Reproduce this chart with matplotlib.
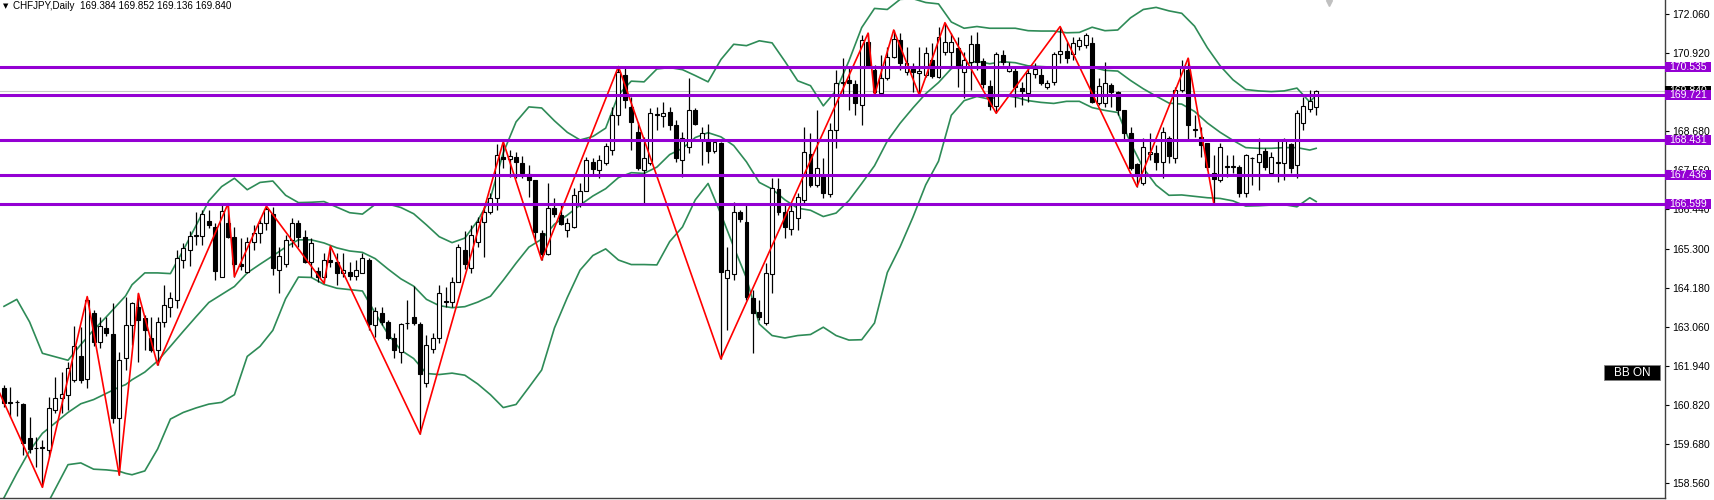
import numpy as np
import matplotlib
matplotlib.use("Agg")
import matplotlib.pyplot as plt
from matplotlib.patches import Rectangle
from matplotlib.transforms import blended_transform_factory

plt.rcParams['font.family'] = ['Liberation Sans', 'DejaVu Sans']

symbol = "CHFJPY,Daily"
last_ohlc = ["169.384", "169.852", "169.136", "169.840"]

# daily candles left to right
opens = [161.30, 160.90, 160.89, 160.84, 159.87, 159.57, 159.58, 159.52, 160.67, 161.02,
         161.10, 161.53, 162.22, 161.55, 163.45, 162.63, 163.02, 162.85, 160.43, 162.16,
         163.11, 163.64, 163.31, 162.73, 162.39, 163.21, 163.64, 163.83, 164.98, 165.27,
         165.67, 165.67, 166.10, 165.94, 164.50, 166.05, 165.65, 164.88, 164.65, 165.50,
         165.75, 166.03, 166.30, 164.69, 164.86, 165.55, 166.03, 165.65, 164.93, 164.67,
         164.50, 164.98, 164.93, 164.61, 164.64, 164.52, 164.62, 164.98, 163.11, 163.47,
         163.21, 162.73, 162.34, 163.16, 163.35, 163.14, 161.44, 162.41, 162.73, 163.81,
         163.78, 164.36, 165.27, 164.74, 165.50, 166.08, 166.37, 166.75, 167.93, 167.88,
         167.93, 167.76, 167.45, 167.28, 165.75, 165.15, 166.47, 166.27, 165.84, 165.94,
         166.59, 166.97, 167.80, 167.57, 167.76, 168.14, 169.15, 170.30, 169.39, 168.67,
         167.57, 167.76, 169.17, 169.12, 169.22, 168.86, 167.85, 168.24, 169.29, 168.43,
         168.45, 168.12, 168.33, 164.45, 164.58, 166.35, 166.08, 163.88, 163.50, 163.18,
         164.58, 167.01, 166.37, 165.86, 166.18, 166.70, 168.03, 167.14, 167.42, 166.88,
         168.72, 170.06, 170.15, 170.04, 169.43, 171.25, 170.44, 169.77, 170.20, 170.82,
         171.30, 170.39, 170.50, 170.36, 170.30, 170.73, 170.25, 170.97, 170.97, 171.06,
         170.39, 170.68, 171.18, 170.71, 169.98, 169.41, 170.87, 170.42, 170.42, 169.91,
         169.79, 170.33, 170.30, 169.96, 170.10, 170.90, 170.99, 170.90, 171.13, 171.16,
         171.21, 169.48, 169.48, 170.01, 169.82, 169.29, 168.62, 167.73, 167.19, 168.04,
         168.06, 167.80, 168.48, 167.92, 169.87, 170.44, 168.72, 168.52, 168.33, 167.47,
         167.28, 167.66, 167.66, 167.66, 166.90, 167.90, 167.79, 168.12, 167.47, 167.80,
         167.76, 168.31, 167.71, 168.91, 169.31, 169.384]
highs = [161.38, 161.34, 160.95, 160.87, 160.48, 159.90, 159.81, 161.05, 161.63, 161.77,
         162.06, 163.08, 163.06, 163.93, 163.55, 163.35, 163.35, 163.75, 162.35, 163.93,
         163.78, 164.02, 163.40, 163.35, 163.35, 164.26, 164.07, 165.27, 165.46, 165.80,
         166.37, 166.42, 166.42, 166.04, 166.56, 166.60, 165.94, 165.60, 165.65, 165.99,
         166.18, 166.53, 166.50, 165.36, 165.70, 166.18, 166.13, 165.84, 165.60, 164.79,
         165.17, 165.38, 165.17, 165.17, 164.93, 164.98, 165.17, 165.03, 163.64, 163.64,
         163.26, 162.87, 163.16, 163.83, 164.23, 163.20, 162.83, 162.87, 164.26, 164.20,
         164.50, 165.45, 165.80, 166.00, 166.22, 166.51, 166.90, 168.30, 168.38, 168.14,
         168.09, 167.97, 167.71, 167.28, 165.84, 167.18, 166.75, 166.61, 166.18, 167.04,
         167.18, 167.95, 167.90, 168.00, 168.33, 169.39, 170.54, 170.50, 169.67, 168.96,
         168.52, 169.34, 169.39, 169.53, 169.39, 169.00, 168.67, 170.20, 169.34, 168.81,
         168.89, 168.43, 168.38, 165.36, 166.66, 166.42, 166.63, 164.12, 163.83, 164.90,
         167.33, 167.33, 166.56, 166.61, 166.90, 168.81, 168.62, 169.29, 167.90, 168.91,
         170.44, 170.78, 170.54, 170.15, 171.45, 171.50, 170.58, 170.87, 171.11, 171.59,
         171.49, 171.11, 170.63, 171.11, 171.11, 171.21, 171.69, 171.80, 171.49, 171.40,
         170.97, 171.45, 171.54, 170.78, 170.15, 170.97, 171.02, 170.68, 170.54, 170.10,
         170.54, 170.63, 170.49, 170.15, 170.97, 171.69, 171.25, 171.40, 171.40, 171.49,
         171.40, 170.20, 170.68, 170.06, 169.85, 169.29, 168.81, 167.76, 168.48, 168.62,
         168.29, 168.81, 168.53, 169.96, 170.73, 170.78, 169.15, 168.81, 168.33, 168.00,
         168.33, 168.00, 168.00, 167.71, 168.04, 167.95, 168.48, 168.19, 168.09, 168.43,
         168.48, 168.35, 169.29, 169.67, 169.88, 169.852]
lows = [160.75, 160.48, 160.50, 159.38, 159.43, 159.04, 158.45, 159.33, 160.58, 160.58,
        160.67, 161.48, 161.45, 161.29, 162.50, 162.44, 162.80, 160.30, 158.80, 161.82,
        162.54, 162.06, 162.40, 162.35, 161.96, 163.07, 163.35, 163.60, 164.74, 164.80,
        165.40, 165.40, 165.90, 164.41, 164.48, 165.60, 164.50, 164.70, 164.60, 165.27,
        165.46, 165.84, 164.55, 164.02, 164.79, 165.36, 165.36, 164.89, 164.50, 164.35,
        164.31, 164.79, 164.26, 164.50, 164.41, 164.41, 164.60, 162.97, 162.78, 163.10,
        162.68, 162.16, 162.02, 163.00, 163.10, 159.98, 161.34, 162.30, 162.60, 163.64,
        163.64, 164.36, 164.72, 164.60, 165.36, 165.08, 166.30, 166.42, 167.62, 167.38,
        167.33, 167.33, 166.80, 165.51, 164.98, 165.12, 166.22, 165.99, 165.65, 165.89,
        166.51, 166.95, 167.42, 167.33, 167.71, 167.99, 168.86, 169.34, 168.14, 167.57,
        166.56, 167.71, 168.72, 168.81, 168.72, 167.81, 167.37, 168.05, 168.86, 167.71,
        167.76, 168.05, 162.14, 162.97, 164.41, 166.08, 163.83, 162.30, 163.26, 163.11,
        164.02, 166.27, 165.60, 165.70, 165.84, 166.61, 167.09, 167.09, 166.75, 166.80,
        168.19, 169.68, 169.29, 169.15, 168.86, 170.49, 169.72, 169.74, 170.15, 170.78,
        170.44, 170.30, 169.82, 169.72, 170.25, 170.20, 170.20, 170.87, 170.54, 169.96,
        169.63, 169.87, 170.44, 169.91, 169.29, 169.20, 170.58, 170.39, 169.39, 169.44,
        169.53, 170.20, 170.01, 169.89, 170.01, 170.63, 170.63, 170.73, 171.02, 171.06,
        169.48, 169.44, 169.39, 169.39, 169.15, 168.43, 167.57, 167.09, 167.14, 167.85,
        167.57, 167.33, 167.76, 167.76, 169.82, 168.43, 168.52, 167.95, 167.57, 166.61,
        167.23, 167.38, 167.47, 166.80, 166.80, 167.14, 166.99, 167.57, 167.42, 167.23,
        167.28, 167.47, 167.33, 168.72, 169.24, 169.136]
closes = [160.87, 160.88, 160.90, 159.73, 159.55, 159.58, 159.60, 160.72, 161.02, 161.12,
          161.87, 162.51, 161.53, 163.83, 162.63, 163.08, 162.87, 160.43, 162.11, 163.11,
          163.74, 163.27, 162.97, 162.39, 163.21, 163.69, 163.88, 165.03, 165.32, 165.67,
          165.69, 166.29, 165.99, 164.67, 166.40, 165.65, 164.88, 164.82, 165.50, 165.75,
          166.03, 166.44, 164.74, 165.09, 165.55, 166.03, 165.65, 164.93, 165.48, 164.50,
          164.98, 164.93, 164.62, 164.69, 164.52, 164.69, 165.05, 163.14, 163.52, 163.21,
          162.73, 162.39, 163.14, 163.18, 163.16, 161.70, 162.54, 162.73, 164.02, 163.78,
          164.36, 165.36, 164.88, 165.70, 166.08, 166.37, 166.75, 167.99, 167.88, 167.97,
          167.80, 167.49, 167.28, 165.79, 165.15, 166.47, 166.30, 166.01, 166.05, 166.85,
          166.97, 167.85, 167.59, 167.85, 168.26, 169.15, 170.39, 169.58, 168.95, 167.62,
          167.90, 169.20, 169.14, 169.20, 168.86, 167.90, 168.48, 169.29, 168.89, 168.64,
          168.12, 168.38, 164.64, 164.69, 166.37, 166.15, 163.93, 163.47, 163.35, 164.60,
          167.04, 166.37, 165.92, 166.40, 166.80, 168.09, 167.14, 167.62, 166.90, 168.72,
          170.06, 170.11, 170.06, 169.48, 171.30, 170.54, 169.82, 170.20, 170.80, 171.32,
          170.63, 170.63, 170.39, 170.42, 170.94, 170.27, 171.40, 171.25, 171.25, 170.49,
          170.73, 171.18, 170.68, 170.04, 169.41, 170.90, 170.68, 170.49, 169.94, 169.85,
          170.35, 170.46, 170.06, 170.08, 170.90, 170.99, 170.78, 171.23, 171.30, 171.45,
          169.53, 169.98, 170.08, 169.82, 169.29, 168.62, 167.62, 167.40, 168.24, 168.08,
          167.80, 168.67, 167.97, 169.87, 170.54, 168.86, 168.74, 168.29, 167.64, 167.30,
          168.24, 167.69, 167.68, 166.90, 167.99, 167.92, 168.03, 167.66, 167.93, 167.76,
          168.43, 167.62, 169.21, 169.40, 169.56, 169.840]

# Bollinger bands, sampled every second bar
bb_idx = [0, 2, 4, 6, 8, 10, 12, 14, 16, 18, 19] + list(range(20, 205, 2)) + [205]
bb_upper = [163.65, 163.85, 163.20, 162.30, 162.20, 162.10, 162.55, 162.97, 163.35, 163.75, 163.95,
            164.27, 164.61, 164.61, 164.59, 165.26, 165.97, 166.68, 167.09, 167.33, 167.00,
            167.21, 167.25, 166.84, 166.63, 166.64, 166.66, 166.50, 166.34, 166.30, 166.58,
            166.59, 166.49, 166.31, 165.99, 165.65, 165.48, 165.61, 166.11, 166.77, 168.06,
            168.95, 169.38, 169.35, 168.98, 168.65, 168.43, 168.53, 168.77, 169.73, 170.12,
            170.10, 170.47, 170.51, 170.45, 170.28, 170.10, 170.74, 171.18, 171.14, 171.28,
            171.22, 170.69, 170.13, 169.99, 169.41, 169.85, 170.70, 171.66, 172.21, 172.18,
            172.47, 172.49, 172.38, 172.34, 171.82, 171.64, 171.69, 171.64, 171.64, 171.64,
            171.57, 171.56, 171.56, 171.51, 171.52, 171.67, 171.57, 171.59, 171.94, 172.18,
            172.24, 172.14, 172.07, 171.70, 171.08, 170.56, 170.16, 169.88, 169.84, 169.82,
            169.84, 169.92, 169.52, 169.72]
bb_middle = [158.15, 158.85, 159.50, 160.00, 160.30, 160.60, 160.85, 160.97, 161.15, 161.33, 161.40,
             161.54, 161.76, 162.08, 162.50, 162.93, 163.35, 163.76, 163.99, 164.22, 164.61,
             164.86, 165.10, 165.35, 165.56, 165.56, 165.47, 165.33, 165.24, 165.20, 165.02,
             164.72, 164.44, 164.23, 163.85, 163.67, 163.61, 163.64, 163.77, 163.94, 164.40,
             164.89, 165.35, 165.58, 166.01, 166.27, 166.56, 166.82, 167.03, 167.35, 167.49,
             167.47, 167.65, 168.01, 168.19, 168.50, 168.64, 168.52, 168.27, 167.80, 167.21,
             167.02, 166.71, 166.47, 166.41, 166.23, 166.33, 166.69, 167.18, 167.69, 168.40,
             168.91, 169.35, 169.76, 170.08, 170.48, 170.60, 170.69, 170.62, 170.68, 170.65,
             170.56, 170.54, 170.52, 170.53, 170.53, 170.52, 170.43, 170.41, 170.14, 169.90,
             169.69, 169.49, 169.46, 169.25, 168.92, 168.65, 168.42, 168.21, 168.19, 168.19,
             168.21, 168.21, 168.14, 168.19]
bb_lower = [152.65, 153.85, 155.80, 157.70, 158.40, 159.10, 159.15, 158.97, 158.95, 158.91, 158.85,
            158.81, 158.92, 159.55, 160.41, 160.60, 160.73, 160.84, 160.89, 161.11, 162.21,
            162.50, 162.96, 163.87, 164.49, 164.48, 164.28, 164.17, 164.13, 164.09, 163.45,
            162.85, 162.39, 162.15, 161.72, 161.69, 161.73, 161.67, 161.42, 161.11, 160.74,
            160.83, 161.32, 161.82, 163.03, 163.90, 164.69, 165.11, 165.30, 164.98, 164.85,
            164.85, 164.84, 165.51, 165.93, 166.71, 167.18, 166.30, 165.36, 164.46, 163.14,
            162.81, 162.74, 162.81, 162.84, 163.05, 162.81, 162.68, 162.69, 163.17, 164.62,
            165.36, 166.21, 167.14, 167.82, 169.14, 169.56, 169.68, 169.60, 169.72, 169.66,
            169.56, 169.51, 169.48, 169.54, 169.54, 169.36, 169.28, 169.22, 168.34, 167.62,
            167.13, 166.84, 166.85, 166.81, 166.77, 166.75, 166.68, 166.53, 166.54, 166.56,
            166.57, 166.51, 166.77, 166.66]

# zigzag turning points (bar index, price)
zz_idx = [-3, 6, 13, 18, 21, 24, 35, 36, 41, 50, 51, 65, 78, 84, 96, 112,
          135, 136, 139, 143, 147, 155, 165, 177, 185, 189]
zz_price = [162.10, 158.45, 163.93, 158.80, 164.02, 161.96, 166.60, 164.50, 166.53,
            164.31, 165.38, 159.98, 168.38, 164.98, 170.54, 162.14, 171.50, 169.72,
            171.59, 169.72, 171.80, 169.20, 171.69, 167.09, 170.78, 166.61]

# horizontal levels and current price
levels = [170.535, 169.721, 168.431, 167.436, 166.599]
price_line = 169.840

yticks = [172.060, 170.920, 169.800, 168.680, 167.560, 166.440, 165.300,
          164.180, 163.060, 161.940, 160.820, 159.680, 158.560]

o = np.array(opens)
h = np.array(highs)
l = np.array(lows)
c = np.array(closes)
x = np.arange(len(closes))

W, H = 1715, 500
fig = plt.figure(figsize=(W / 100, H / 100), dpi=100)
ax = fig.add_axes([0, 2 / H, 1665 / W, 498 / H])
ax.set_xlim(-0.625, 259.5)
ax.set_ylim(158.142, 172.452)

purple = '#9400d3'
green = '#2e8b57'

ax.axhline(price_line, color='#c8c8c8', lw=0.8, zorder=1)

ax.plot(bb_idx, bb_upper, color=green, lw=1.2, zorder=2)
ax.plot(bb_idx, bb_middle, color=green, lw=1.2, zorder=2)
ax.plot(bb_idx, bb_lower, color=green, lw=1.2, zorder=2)

# candles
ax.vlines(x, l, h, color='black', lw=0.9, zorder=3)
up = c >= o
ax.bar(x, np.abs(c - o), bottom=np.minimum(o, c), width=0.62,
       color=np.where(up, 'white', 'black'), edgecolor='black', lw=0.8, zorder=4)

ax.plot(zz_idx, zz_price, color='red', lw=1.2, zorder=5)

for lv in levels:
    ax.axhline(lv, color=purple, lw=2.2, zorder=6)

# right price scale
ax.yaxis.tick_right()
ax.set_yticks(yticks)
ax.set_yticklabels([f"{v:.3f}" for v in yticks])
ax.tick_params(axis='y', length=3, width=0.8, pad=2, labelsize=7.5, colors='black')
ax.set_xticks([])
for s in ['top', 'left']:
    ax.spines[s].set_visible(False)
for s in ['right', 'bottom']:
    ax.spines[s].set_color('#404040')
    ax.spines[s].set_linewidth(1.0)

# price tags on the scale
tr = blended_transform_factory(ax.transAxes, ax.transData)
box_w = 46 / 1665
half = 5 / 34.8
ax.add_patch(Rectangle((1.0, price_line - half), box_w, 2 * half, transform=tr,
                       facecolor='black', edgecolor='none', clip_on=False, zorder=7))
ax.text(1.0 + 4 / 1665, price_line, f"{price_line:.3f}", transform=tr, color='white',
        fontsize=7.5, va='center', ha='left', clip_on=False, zorder=8)
for lv in levels:
    ax.add_patch(Rectangle((1.0, lv - half), box_w, 2 * half, transform=tr,
                           facecolor=purple, edgecolor='none', clip_on=False, zorder=9))
    ax.text(1.0 + 4 / 1665, lv, f"{lv:.3f}", transform=tr, color='white',
            fontsize=7.5, va='center', ha='left', clip_on=False, zorder=10)

# header
fig.text(3 / W, 1 - 6 / H, '\u25bc', family='DejaVu Sans', fontsize=5, va='center', ha='left')
fig.text(13 / W, 1 - 6 / H, symbol + "  " + " ".join(last_ohlc), fontsize=7.1,
         va='center', ha='left')

# BB ON button
fig.patches.append(Rectangle((1604 / W, 1 - 380 / H), 56 / W, 15 / H, transform=fig.transFigure,
                             facecolor='black', edgecolor='#808080', lw=0.6))
fig.text(1632 / W, 1 - 372.5 / H, 'BB ON', color='white', fontsize=8.5, va='center', ha='center')

# chart shift marker
ax.plot([207], [172.37], marker='v', color='#c0c0c0', ms=5, clip_on=False, zorder=3)

fig.savefig('out.png', dpi=100, facecolor='white')
